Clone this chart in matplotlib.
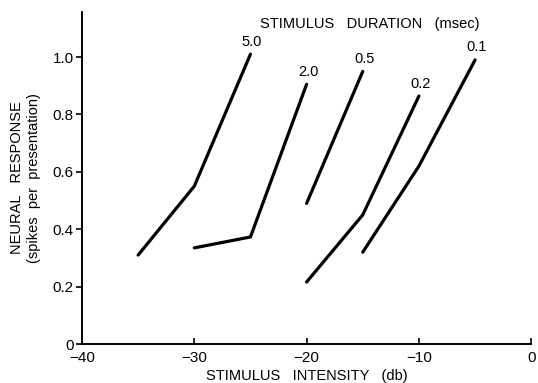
import matplotlib.pyplot as plt

# stimulus duration (msec) -> curve through (intensity db, response)
DURATIONS = ["5.0", "2.0", "0.5", "0.2", "0.1"]
INTENSITY = {
    "5.0": [-35, -30, -25],
    "2.0": [-30, -25, -20],
    "0.5": [-20, -15],
    "0.2": [-20, -15, -10],
    "0.1": [-15, -10, -5],
}
RESPONSE = {
    "5.0": [0.31, 0.55, 1.01],
    "2.0": [0.335, 0.373, 0.905],
    "0.5": [0.49, 0.95],
    "0.2": [0.216, 0.45, 0.864],
    "0.1": [0.32, 0.62, 0.99],
}
X_TICKS = [-40, -30, -20, -10, 0]
Y_TICKS = [0, 0.2, 0.4, 0.6, 0.8, 1.0]
Y_TICK_LABELS = ["0", "0.2", "0.4", "0.6", "0.8", "1.0"]

plt.rcParams["font.family"] = ["Liberation Sans", "DejaVu Sans"]

fig = plt.figure(figsize=(5.38, 3.83), dpi=100)
ax = fig.add_axes([0.1524, 0.1018, 0.835, 0.8669])

for d in DURATIONS:
    xs, ys = INTENSITY[d], RESPONSE[d]
    ax.plot(xs, ys, color="black", lw=2.3, solid_capstyle="round")
    ax.annotate(d, (xs[-1], ys[-1]), xytext=(1, 4), textcoords="offset points",
                ha="center", va="bottom", fontsize=10.5)

ax.set_xlim(-40, 0)
ax.set_ylim(0, 1.157)
ax.set_xticks(X_TICKS)
ax.set_yticks(Y_TICKS)
ax.set_yticklabels(Y_TICK_LABELS)
ax.spines["top"].set_visible(False)
ax.spines["right"].set_visible(False)
for s in ("left", "bottom"):
    ax.spines[s].set_linewidth(1.4)
ax.tick_params(axis="x", direction="in", length=4, width=1.2, labelsize=11, pad=5)
ax.tick_params(axis="y", direction="out", length=4, width=1.2, labelsize=11, pad=2)

ax.set_xlabel("STIMULUS   INTENSITY   (db)", fontsize=10.5, labelpad=3)
ax.set_ylabel("NEURAL   RESPONSE\n(spikes  per  presentation)", fontsize=10.5,
              labelpad=8, linespacing=1.3)
ax.text(0.64, 0.985, "STIMULUS   DURATION   (msec)", transform=ax.transAxes,
        ha="center", va="top", fontsize=10.5)

fig.savefig("out.png", dpi=100)
